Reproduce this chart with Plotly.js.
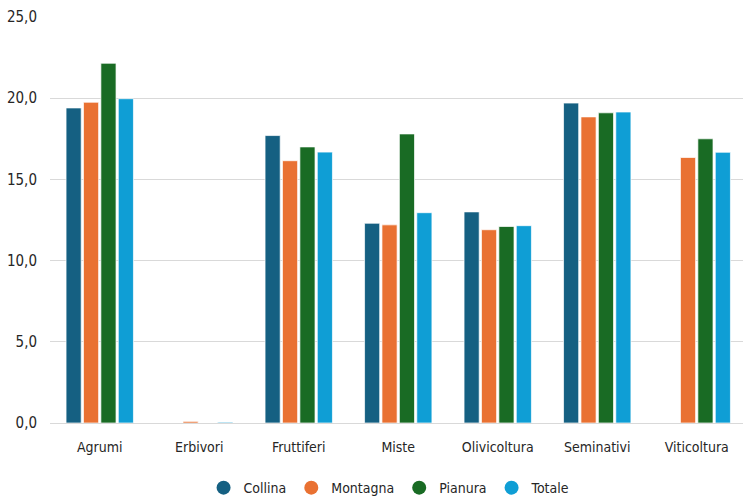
<!DOCTYPE html>
<html><head><meta charset="utf-8">
<script src="https://cdn.plot.ly/plotly-3.0.1.min.js"></script>
<style>
html,body{margin:0;padding:0;background:#fff}
.main-svg text{font-stretch:condensed !important;}
</style>
</head><body><div id="chart" style="width:743px;height:496px"></div>
<script>
var categories = ["Agrumi","Erbivori","Fruttiferi","Miste","Olivicoltura","Seminativi","Viticoltura"];
var seriesNames = ["Collina","Montagna","Pianura","Totale"];
var collina  = [19.4, null, 17.7, 12.3, 13.0, 19.7, null];
var montagna = [19.75, 0.1, 16.15, 12.2, 11.9, 18.85, 16.35];
var pianura  = [22.15, null, 17.0, 17.8, 12.1, 19.1, 17.5];
var totale   = [19.97, 0.05, 16.68, 12.95, 12.15, 19.15, 16.67];
var yTicks = [0,5,10,15,20,25];
var colors = ["#156082","#E97132","#196B24","#0F9ED5"];
var values = [collina, montagna, pianura, totale];
var font = "'DejaVu Sans Condensed','DejaVu Sans',sans-serif";
var traces = [];
values.forEach(function(v,i){
  traces.push({type:"bar", x:categories, y:v, name:seriesNames[i], showlegend:false,
    marker:{color:colors[i], line:{color:"rgba(255,255,255,0.7)", width:1}}, hoverinfo:"y"});
});
values.forEach(function(v,i){
  traces.push({type:"scatter", mode:"markers", x:[null], y:[null], name:seriesNames[i],
    marker:{color:colors[i], size:14, symbol:"circle"}});
});
var layout = {
  width:743, height:496,
  margin:{l:50, r:0, t:17, b:73, autoexpand:false},
  paper_bgcolor:"#fff", plot_bgcolor:"#fff",
  barmode:"group", bargap:0.3, bargroupgap:0.13,
  separators:",.",
  font:{family:font, size:13, color:"#262626"},
  xaxis:{type:"category", range:[-0.5,6.465], showgrid:false, zeroline:false, automargin:false,
    showline:false, ticks:"", ticklabelstandoff:14, tickfont:{family:font,size:14,color:"#262626"}},
  yaxis:{range:[0,25], tickvals:yTicks, tickformat:".1f", showgrid:true, gridcolor:"#d9d9d9", automargin:false,
    gridwidth:1, zeroline:true, zerolinecolor:"#d9d9d9", zerolinewidth:1, ticks:"",
    ticklabelstandoff:12, tickfont:{family:font,size:15,color:"#262626"}},
  showlegend:true,
  legend:{orientation:"h", x:0.49, xanchor:"center", yref:"container", y:0.016, yanchor:"middle",
    font:{family:font,size:14,color:"#262626"}, itemwidth:20, tracegroupgap:0}
};
Plotly.newPlot("chart", traces, layout, {displayModeBar:false, staticPlot:true});
</script></body></html>
